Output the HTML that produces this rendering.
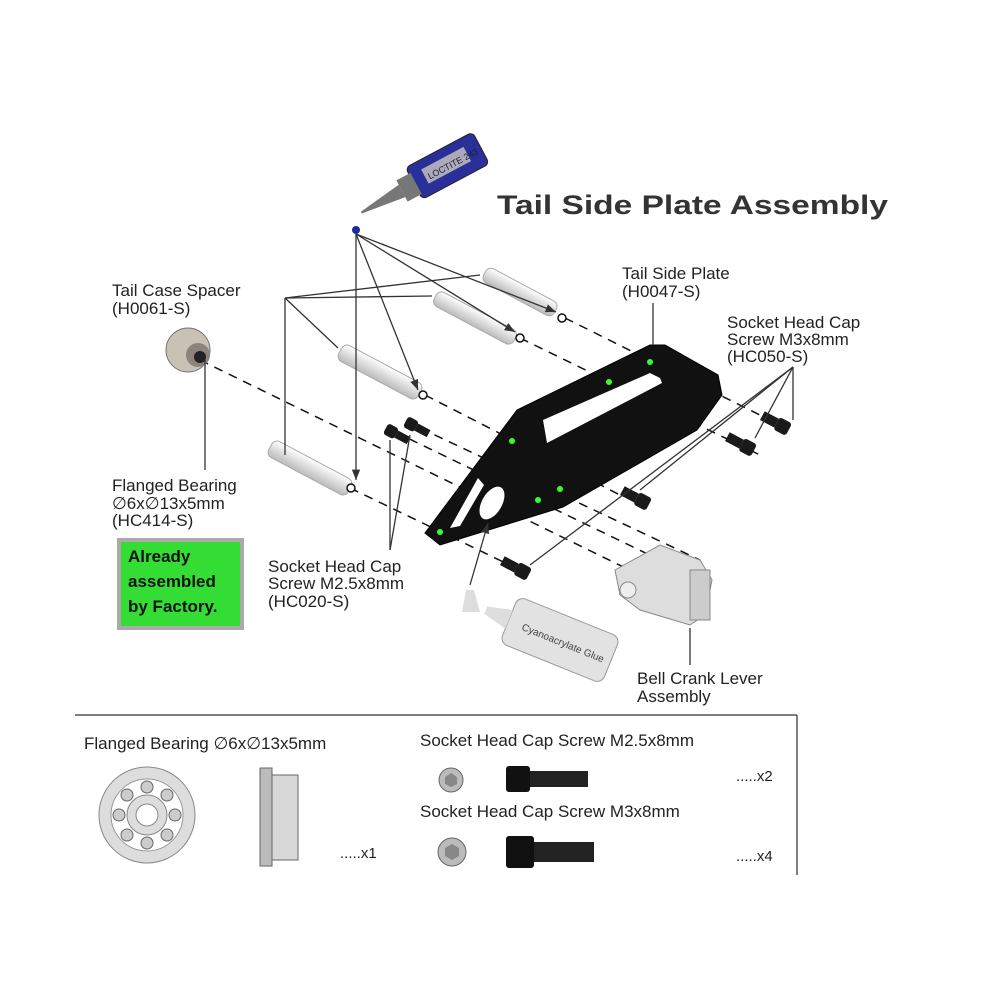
<!DOCTYPE html>
<html><head><meta charset="utf-8"><style>
body{margin:0;background:#fff;}
svg{display:block;font-family:"Liberation Sans",sans-serif;}
</style></head><body>
<svg width="1000" height="1000" viewBox="0 0 1000 1000" xmlns="http://www.w3.org/2000/svg">
<defs>
<marker id="ar" viewBox="0 0 10 10" refX="10" refY="5" markerWidth="8" markerHeight="8" orient="auto"><path d="M0,1 L10,5 L0,9 Z" fill="#333"/></marker>
<linearGradient id="sp" x1="0" y1="0" x2="0" y2="1"><stop offset="0" stop-color="#fff"/><stop offset="1" stop-color="#bbb"/></linearGradient>
</defs>
<rect width="1000" height="1000" fill="#fff"/>
<text x="497" y="214" font-size="27" font-weight="bold" fill="#333" textLength="391" lengthAdjust="spacingAndGlyphs">Tail Side Plate Assembly</text>

<!-- Loctite bottle -->
<g transform="translate(420,178) rotate(-28)">
 <rect x="-8" y="-16" width="76" height="36" rx="5" fill="#2a2f9a" stroke="#222"/>
 <rect x="5" y="-7" width="48" height="16" fill="#aab" />
 <text x="8" y="6" font-size="9" fill="#223">LOCTITE 243</text>
 <rect x="-22" y="-9" width="16" height="24" fill="#777"/>
 <polygon points="-22,-4 -68,2 -68,4 -22,10" fill="#777"/>
</g>
<circle cx="356" cy="230" r="4" fill="#1a2aa0"/>

<!-- dashed axis lines -->
<g stroke="#111" stroke-width="1.5" stroke-dasharray="9,7" fill="none">
 <line x1="565" y1="318" x2="790" y2="430"/>
 <line x1="520" y1="338" x2="760" y2="455"/>
 <line x1="425" y1="395" x2="620" y2="495"/>
 <line x1="350" y1="488" x2="520" y2="570"/>
 <line x1="200" y1="360" x2="650" y2="580"/>
 <line x1="420" y1="428" x2="700" y2="560"/>
 <line x1="395" y1="432" x2="660" y2="560"/>
</g>

<!-- spacers -->
<g fill="url(#sp)" stroke="#aaa">
 <g transform="translate(520,292) rotate(28)"><rect x="-40" y="-8" width="80" height="16" rx="6"/></g>
 <g transform="translate(475,318) rotate(28)"><rect x="-45" y="-8" width="90" height="16" rx="6"/></g>
 <g transform="translate(380,372) rotate(28)"><rect x="-45" y="-9" width="90" height="18" rx="6"/></g>
 <g transform="translate(310,468) rotate(28)"><rect x="-45" y="-9" width="90" height="18" rx="6"/></g>
</g>
<g fill="#fff" stroke="#111" stroke-width="1.5">
 <circle cx="562" cy="318" r="4"/><circle cx="520" cy="338" r="4"/><circle cx="423" cy="395" r="4"/><circle cx="351" cy="488" r="4"/>
</g>

<!-- bearing left -->
<circle cx="188" cy="350" r="22" fill="#c9c1b5" stroke="#777"/>
<circle cx="198" cy="355" r="12" fill="#8a847c"/>
<circle cx="200" cy="357" r="6" fill="#222"/>

<!-- plate -->
<polygon points="425,533 517,410 650,345 665,345 718,375 722,395 697,430 563,507 440,545" fill="#111" stroke="#000"/>
<polygon points="543,420 650,373 660,378 662,383 547,443" fill="#fff"/>
<ellipse cx="492" cy="503" rx="10" ry="18" transform="rotate(30 492 503)" fill="#fff"/>
<polygon points="450,528 478,478 484,485 460,526" fill="#fff"/>
<g fill="#3f3">
 <circle cx="650" cy="362" r="3"/><circle cx="609" cy="382" r="3"/><circle cx="512" cy="441" r="3"/>
 <circle cx="560" cy="489" r="3"/><circle cx="538" cy="500" r="3"/><circle cx="440" cy="532" r="3"/>
</g>

<!-- screws -->
<g fill="#1a1a1a">
 <g transform="translate(418,428) rotate(28)"><rect x="-14" y="-6" width="12" height="12" rx="3"/><rect x="-2" y="-4" width="14" height="8"/></g>
 <g transform="translate(398,435) rotate(28)"><rect x="-14" y="-6" width="12" height="12" rx="3"/><rect x="-2" y="-4" width="14" height="8"/></g>
 <g transform="translate(780,425) rotate(28)"><rect x="-4" y="-7" width="14" height="14" rx="3"/><rect x="-20" y="-5" width="16" height="10"/></g>
 <g transform="translate(745,446) rotate(28)"><rect x="-4" y="-7" width="14" height="14" rx="3"/><rect x="-20" y="-5" width="16" height="10"/></g>
 <g transform="translate(640,500) rotate(28)"><rect x="-4" y="-7" width="14" height="14" rx="3"/><rect x="-20" y="-5" width="16" height="10"/></g>
 <g transform="translate(520,570) rotate(28)"><rect x="-4" y="-7" width="14" height="14" rx="3"/><rect x="-20" y="-5" width="16" height="10"/></g>
</g>

<!-- bell crank -->
<g fill="#ddd" stroke="#888">
 <polygon points="615,570 660,545 700,560 712,580 705,615 690,625 640,610 620,595"/>
 <rect x="690" y="570" width="20" height="50" fill="#ccc"/>
 <circle cx="628" cy="590" r="8" fill="#eee"/>
</g>

<!-- glue bottle -->
<g transform="translate(560,640) rotate(22)">
 <rect x="-55" y="-25" width="110" height="50" rx="8" fill="#e2e2e2" stroke="#999"/>
 <text x="-40" y="5" font-size="10" fill="#444">Cyanoacrylate Glue</text>
 <polygon points="-55,-10 -80,-4 -80,4 -55,10" fill="#ddd"/>
</g>
<polygon points="466,590 474,590 480,612 462,612" fill="#ddd"/>

<!-- leader lines -->
<g stroke="#333" stroke-width="1.3" fill="none">
 <line x1="356" y1="234" x2="356" y2="480" marker-end="url(#ar)"/>
 <line x1="356" y1="234" x2="418" y2="390" marker-end="url(#ar)"/>
 <line x1="356" y1="234" x2="515" y2="332" marker-end="url(#ar)"/>
 <line x1="356" y1="234" x2="556" y2="312" marker-end="url(#ar)"/>
 <line x1="285" y1="298" x2="480" y2="275"/>
 <line x1="285" y1="298" x2="432" y2="296"/>
 <line x1="285" y1="298" x2="338" y2="348"/>
 <line x1="285" y1="298" x2="285" y2="455"/>
 <line x1="653" y1="303" x2="653" y2="345"/>
 <line x1="793" y1="367" x2="793" y2="420"/>
 <line x1="793" y1="367" x2="755" y2="438"/>
 <line x1="793" y1="367" x2="640" y2="490"/>
 <line x1="793" y1="367" x2="530" y2="565"/>
 <line x1="205" y1="360" x2="205" y2="470"/>
 <line x1="390" y1="550" x2="390" y2="440"/>
 <line x1="390" y1="550" x2="410" y2="435"/>
 <line x1="470" y1="585" x2="488" y2="523" marker-end="url(#ar)"/>
 <line x1="690" y1="628" x2="690" y2="665"/>
</g>

<!-- labels -->
<g font-size="17" fill="#222">
 <text x="112" y="296">Tail Case Spacer</text><text x="112" y="314">(H0061-S)</text>
 <text x="622" y="279">Tail Side Plate</text><text x="622" y="297">(H0047-S)</text>
 <text x="727" y="328">Socket Head Cap</text><text x="727" y="345">Screw M3x8mm</text><text x="727" y="362">(HC050-S)</text>
 <text x="112" y="491">Flanged Bearing</text><text x="112" y="509">&#x2205;6x&#x2205;13x5mm</text><text x="112" y="526">(HC414-S)</text>
 <text x="268" y="572">Socket Head Cap</text><text x="268" y="589">Screw M2.5x8mm</text><text x="268" y="607">(HC020-S)</text>
 <text x="637" y="684">Bell Crank Lever</text><text x="637" y="702">Assembly</text>
</g>

<!-- green box -->
<rect x="117" y="538" width="127" height="92" fill="#aaa"/>
<rect x="121" y="542" width="119" height="84" fill="#33dd33"/>
<g font-size="17" font-weight="bold" fill="#111"><text x="128" y="562">Already</text><text x="128" y="587">assembled</text><text x="128" y="612">by Factory.</text></g>

<!-- bottom box -->
<line x1="75" y1="715" x2="797" y2="715" stroke="#555" stroke-width="1.5"/>
<line x1="797" y1="715" x2="797" y2="875" stroke="#555" stroke-width="1.5"/>
<g font-size="17" fill="#222">
 <text x="84" y="749">Flanged Bearing &#x2205;6x&#x2205;13x5mm</text>
 <text x="420" y="746">Socket Head Cap Screw M2.5x8mm</text>
 <text x="420" y="817">Socket Head Cap Screw M3x8mm</text>
 <text x="736" y="781" font-size="15">.....x2</text>
 <text x="736" y="861" font-size="15">.....x4</text>
 <text x="340" y="858" font-size="15">.....x1</text>
</g>
<!-- big bearing -->
<circle cx="147" cy="815" r="48" fill="#ddd" stroke="#888"/>
<circle cx="147" cy="815" r="36" fill="#fff" stroke="#999"/>
<circle cx="147" cy="815" r="20" fill="#ddd" stroke="#888"/>
<g fill="#ccc" stroke="#666">
 <circle cx="147" cy="787" r="6"/><circle cx="167" cy="795" r="6"/><circle cx="175" cy="815" r="6"/><circle cx="167" cy="835" r="6"/>
 <circle cx="147" cy="843" r="6"/><circle cx="127" cy="835" r="6"/><circle cx="119" cy="815" r="6"/><circle cx="127" cy="795" r="6"/>
</g>
<circle cx="147" cy="815" r="11" fill="#fff" stroke="#888"/>
<!-- bearing side -->
<rect x="260" y="768" width="12" height="98" fill="#bbb" stroke="#666"/>
<rect x="272" y="775" width="26" height="85" fill="#d8d8d8" stroke="#666"/>
<!-- screw heads -->
<circle cx="451" cy="780" r="12" fill="#bbb" stroke="#666"/><polygon points="451,773 457,777 457,784 451,787 445,784 445,777" fill="#888"/>
<circle cx="452" cy="852" r="14" fill="#bbb" stroke="#666"/><polygon points="452,844 459,848 459,856 452,860 445,856 445,848" fill="#888"/>
<rect x="506" y="766" width="24" height="26" rx="3" fill="#111"/><rect x="530" y="771" width="58" height="16" fill="#222"/>
<rect x="506" y="836" width="28" height="32" rx="3" fill="#111"/><rect x="534" y="842" width="60" height="20" fill="#222"/>
</svg>
</body></html>
